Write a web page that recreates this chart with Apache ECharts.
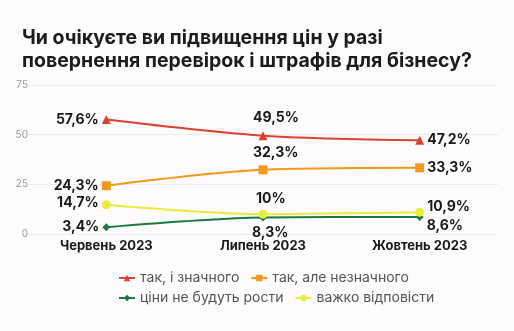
<!DOCTYPE html>
<html>
<head>
<meta charset="utf-8">
<script src="https://cdn.jsdelivr.net/npm/echarts@6/dist/echarts.min.js"></script>
<style>
  html, body { margin: 0; padding: 0; background: #fdfbfd; }
  #chart { width: 514px; height: 331px; }
</style>
</head>
<body>
<div id="chart"></div>
<script>
// Survey waves
const months = ['Червень 2023', 'Липень 2023', 'Жовтень 2023'];

// Answer shares, %
const yesSignificant = [57.6, 49.5, 47.2];
const yesMinor = [24.3, 32.3, 33.3];
const noRise = [3.4, 8.3, 8.6];
const hardToSay = [14.7, 10, 10.9];

const seriesNames = ['так, і значного', 'так, але незначного', 'ціни не будуть рости', 'важко відповісти'];
const yTicks = [0, 25, 50, 75];

const fontFamily = 'Inter, "Noto Sans", sans-serif';
const fmt = v => String(v).replace('.', ',') + '%';

const labelBase = {
  show: true,
  fontFamily,
  fontSize: 14,
  fontWeight: 'bold',
  color: '#1a1a1a',
  formatter: p => fmt(p.value)
};

// label placement per point: [first, middle, last]
function pointLabels(values, middle, lastOffset, firstOffset) {
  return values.map((v, i) => {
    if (i === 0) return { value: v, label: { position: 'left', distance: 3, offset: firstOffset || [0, 0] } };
    if (i === 1) return { value: v, label: middle };
    return { value: v, label: { position: 'right', distance: 3, offset: lastOffset || [0, 0] } };
  });
}

const legendText = { fontFamily, fontSize: 14, color: '#555' };

const chart = echarts.init(document.getElementById('chart'));
chart.setOption({
  backgroundColor: '#fdfbfd',
  animation: false,
  title: {
    text: 'Чи очікуєте ви підвищення цін у разі\nповернення перевірок і штрафів для бізнесу?',
    left: 17,
    top: 22,
    textStyle: { fontFamily, fontSize: 19.5, fontWeight: 'bold', color: '#1c1c1c', lineHeight: 23 }
  },
  legend: [
    {
      data: [seriesNames[0], seriesNames[1]],
      left: 113, top: 266,
      itemWidth: 16, itemHeight: 8, itemGap: 11,
      textStyle: legendText
    },
    {
      data: [seriesNames[2], seriesNames[3]],
      left: 113, top: 286,
      itemWidth: 16, itemHeight: 8, itemGap: 11,
      textStyle: legendText
    }
  ],
  grid: { left: 28, right: 16, top: 85, bottom: 97 },
  xAxis: {
    type: 'category',
    data: months,
    boundaryGap: true,
    axisLine: { show: false },
    axisTick: { show: false },
    axisLabel: { fontFamily, fontSize: 13, fontWeight: 'bold', color: '#1a1a1a', margin: 6 }
  },
  yAxis: {
    type: 'value',
    min: yTicks[0],
    max: yTicks[yTicks.length - 1],
    interval: 25,
    axisLine: { show: false },
    axisTick: { show: false },
    axisLabel: { fontFamily, fontSize: 10, color: '#9a9a9a', margin: 0 },
    splitLine: { lineStyle: { color: '#ececf0', width: 1 } }
  },
  series: [
    {
      name: seriesNames[0],
      type: 'line',
      smooth: 0.3,
      symbol: 'triangle',
      symbolSize: 9,
      color: '#d9432f',
      lineStyle: { width: 2 },
      label: labelBase,
      data: pointLabels(yesSignificant, { position: 'top', distance: 6, align: 'left', offset: [-10, 0] })
    },
    {
      name: seriesNames[1],
      type: 'line',
      smooth: 0.3,
      symbol: 'rect',
      symbolSize: 9,
      color: '#ef9a1f',
      lineStyle: { width: 2 },
      label: labelBase,
      data: pointLabels(yesMinor, { position: 'top', distance: 6, align: 'left', offset: [-10, 0] })
    },
    {
      name: seriesNames[2],
      type: 'line',
      smooth: 0.3,
      symbol: 'diamond',
      symbolSize: 8,
      color: '#1d7a3e',
      lineStyle: { width: 2 },
      label: labelBase,
      data: pointLabels(noRise, { position: 'bottom', distance: 4, align: 'left', offset: [-11, 0] }, [0, 9])
    },
    {
      name: seriesNames[3],
      type: 'line',
      smooth: 0.3,
      symbol: 'circle',
      symbolSize: 9,
      color: '#e7ee3c',
      lineStyle: { width: 2 },
      label: labelBase,
      data: pointLabels(hardToSay, { position: 'top', distance: 4, align: 'left', offset: [-7, 0] }, [0, -6], [0, -2])
    }
  ]
});
</script>
</body>
</html>
